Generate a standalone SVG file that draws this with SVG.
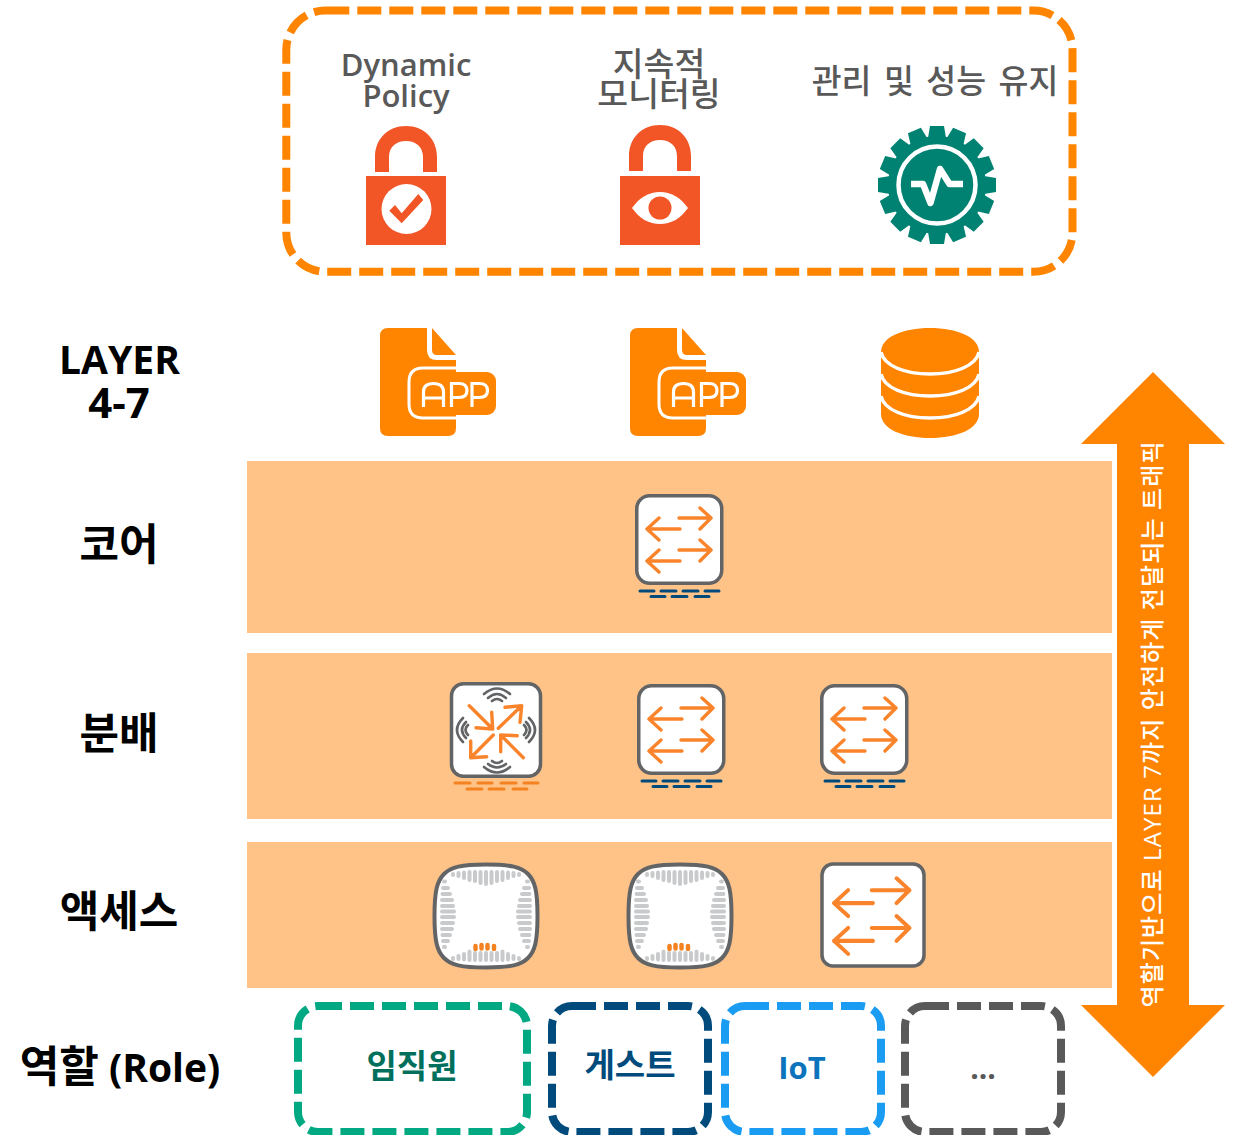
<svg xmlns="http://www.w3.org/2000/svg" width="1241" height="1135" viewBox="0 0 1241 1135">
<style>
text{font-family:"Open Sans","Noto Sans CJK KR",sans-serif;text-anchor:middle}
.lab{font-size:39px;font-weight:700;fill:#000}
.ko{font-size:43px;font-weight:700;fill:#000}
.top{font-size:31px;font-weight:600;fill:#595959}
.topk{font-size:33.500px;font-weight:500;fill:#595959}
.role{font-size:33px;font-weight:700}
.band{fill:#FFC388}
.or{fill:#FF8400}
.red{fill:#F25526}
.tl{fill:#008272}
.dash{fill:none;stroke-width:8;stroke-dasharray:24 8}
.box{fill:#fff;stroke:#636466;stroke-width:3.5}
.ar{fill:none;stroke:#F9842C;stroke-width:3.4;stroke-linecap:round;stroke-linejoin:round}
.wave{fill:none;stroke:#636466;stroke-width:2.600;stroke-linecap:round}
.grey{fill:none;stroke:#C8CACB;stroke-width:4;stroke-linecap:round}
.hot{fill:none;stroke:#F58220;stroke-width:4.500;stroke-linecap:round}
</style>
<defs>
<path id="arrows" class="ar" d="M43 23H75M64 13L75 23L64 34M44 34H11M23 23L11 34L23 45M43 55H75M64 45L75 55L64 66M44 66H11M23 55L11 66L23 77"/>
<symbol id="sw" viewBox="0 0 86 91" width="86" height="91" overflow="visible">
<rect class="box" x="0.750" y="0.750" width="85" height="87.500" rx="13"/>
<use href="#arrows"/>
</symbol>
<path id="lines-blue" fill="none" stroke="#004B7C" stroke-width="3" stroke-linecap="round" d="M2 0H16M23 0H38M45 0H60M67 0H81M13 5.500H27M34 5.500H49M57 5.500H71"/>
<symbol id="ap" viewBox="0 0 106 106" width="106" height="106" overflow="visible">
<path d="M53 1.500C78 1.500 88 4 95 11C102 18 104.500 28 104.500 53C104.500 78 102 88 95 95C88 102 78 104.500 53 104.500C28 104.500 18 102 11 95C4 88 1.500 78 1.500 53C1.500 28 4 18 11 11C18 4 28 1.500 53 1.500Z" fill="#fff" stroke="#636466" stroke-width="4"/>
<path class="grey" d="M20 11V12M25.500 10V13M31 9.500V15M36.500 9V17M42 9V18M47.500 9V20M53 9V21M58.500 9V20M64 9V18M69.500 9V17M75 9.500V15M80.500 10V13M86 11V12"/>
<path class="grey" d="M20 95V96M25.500 93V96M31 91V96.500M36.500 88.500V97M42 90V97M47.500 90V97M53 90V97M58.500 90V97M64 90V97M69.500 88.500V97M75 91V96.500M80.500 93V96M86 95V96"/>
<path class="grey" d="M11 18.500H12M10 25H15M9.500 31H17M9 37H19M9 43H20M9 48.500H21M9 54H21M9 60H20M9 66H19M9.500 72H17M10 78H15M11 84H12"/>
<path class="grey" d="M94 18.500H95M91 25H96M89 31H96.500M87 37H97M86 43H97M85 48.500H97M85 54H97M86 60H97M87 66H97M89 72H96.500M91 78H96M94 84H95"/>
<path class="hot" d="M42.500 83V86M48.500 82V85.500M54.500 82V85.500M61 83V86"/>
</symbol>
<symbol id="app" viewBox="0 0 116 108" width="116" height="108" overflow="visible">
<path class="or" d="M8 0H47V22Q47 32 57 32H76V100Q76 108 68 108H8Q0 108 0 100V8Q0 0 8 0Z"/>
<path class="or" d="M52 0L76 27H57Q52 27 52 22Z"/>
<path d="M76 40H43Q29 40 29 54V76Q29 90 43 90H76" fill="none" stroke="#fff" stroke-width="3"/>
<rect class="or" x="33" y="44" width="83" height="43" rx="9"/>
<path d="M43.500 79V64Q43.500 55.500 53.500 55.500Q63.500 55.500 63.500 64V79M43.500 70H63.500M71.500 79V55.500H79Q87 55.500 87 62.500Q87 69.500 79 69.500H71.500M92 79V55.500H99.500Q107.500 55.500 107.500 62.500Q107.500 69.500 99.500 69.500H92" fill="none" stroke="#fff" stroke-width="3.200"/>
</symbol>
<path id="tooth" d="M930 126h14l2 12h-18zM930 244h14l2-12h-18z"/>
</defs>

<g id="top-group">
<rect class="dash" x="286.300" y="10.500" width="786.200" height="261.200" rx="39" stroke="#FF8400"/>
</g>

<g id="policy">
<text class="top" x="406" y="76">Dynamic</text><text class="top" x="406" y="107">Policy</text>
<path class="red" d="M375 172V157C375 139 388 126 406 126C424 126 437 139 437 157V172H423V157C423 147 416 141 406 141C396 141 389 147 389 157V172Z"/>
<rect class="red" x="366" y="176" width="80" height="69"/>
<circle cx="406.500" cy="209" r="25" fill="#fff"/>
<path class="red" d="M389.300 210.700L395 205L401.700 213.300L418.300 194L423.300 200L401.700 223.300Z"/>
</g>

<g id="monitoring">
<text class="topk" x="659" y="76">지속적</text><text class="topk" x="659" y="106">모니터링</text>
<path class="red" d="M629 171V156C629 138 642 125 660 125C678 125 691 138 691 156V171H677V156C677 146 670 140 660 140C650 140 643 146 643 156V171Z"/>
<rect class="red" x="620" y="176" width="80" height="69"/>
<path d="M632 208C640 197 649 192 660 192C671 192 680 197 688 208C680 219 671 224 660 224C649 224 640 219 632 208Z" fill="#fff"/>
<circle cx="660" cy="208" r="11.500" fill="#F25526"/>
</g>

<g id="manage">
<text class="topk" style="font-size:32.500px" x="935" y="93" word-spacing="4">관리 및 성능 유지</text>
<circle class="tl" cx="937" cy="185" r="49"/>
<g class="tl" id="gear">
<use href="#tooth"/>
<use href="#tooth" transform="rotate(22.500 937 185)"/>
<use href="#tooth" transform="rotate(45 937 185)"/>
<use href="#tooth" transform="rotate(67.500 937 185)"/>
<use href="#tooth" transform="rotate(90 937 185)"/>
<use href="#tooth" transform="rotate(112.500 937 185)"/>
<use href="#tooth" transform="rotate(135 937 185)"/>
<use href="#tooth" transform="rotate(157.500 937 185)"/>
</g>
<circle cx="937" cy="185" r="38.500" fill="none" stroke="#fff" stroke-width="4.500"/>
<path d="M911 184H923L930.500 203L940 169L949.500 184H963" fill="none" stroke="#fff" stroke-width="6.500" stroke-linejoin="round"/>
</g>

<g id="app-1"><use href="#app" x="380" y="328"/></g>
<g id="app-2"><use href="#app" x="630" y="328"/></g>
<g id="database">
<path class="or" d="M881 352C881 337 903 328 930 328C957 328 979 337 979 352V414C979 429 957 438 930 438C903 438 881 429 881 414Z"/>
<path d="M881 352C884 366 905 374 930 374C955 374 976 366 979 352M881 374C884 388 905 396 930 396C955 396 976 388 979 374M881 396C884 410 905 418 930 418C955 418 976 410 979 396" fill="none" stroke="#fff" stroke-width="3.500"/>
</g>

<g id="bands">
<rect class="band" x="247" y="461" width="865" height="172"/>
<rect class="band" x="247" y="653" width="865" height="166"/>
<rect class="band" x="247" y="842" width="865" height="146"/>
</g>

<g id="arrow">
<path class="or" d="M1153 372L1225 444H1189V1005H1225L1153 1077L1081 1005H1117V444H1081Z"/>
<text transform="translate(1161 724.500) rotate(-90)" font-size="24" font-weight="500" fill="#fff" textLength="566" lengthAdjust="spacing">역할기반으로 LAYER 7까지 안전하게 전달되는 트래픽</text>
</g>

<g id="layer-labels">
<text class="lab" x="119.500" y="374">LAYER</text><text class="lab" style="font-size:42px" x="119" y="418">4-7</text>
<text class="ko" x="119" y="560">코어</text>
<text class="ko" x="119" y="749">분배</text>
<text class="ko" x="119" y="927">액세스</text>
<text class="lab" x="120" y="1082"><tspan font-size="43">역할</tspan> (Role)</text>
</g>

<g id="core-switch"><use href="#sw" x="636" y="495"/><use href="#lines-blue" x="638" y="591"/></g>
<g id="dist-controller">
<rect class="box" x="451.500" y="683.750" width="89" height="92.500" rx="12"/>
<path class="ar" d="M469.300 705.700L492.700 729M491.700 712.300L492.700 729L476 727.700M498.300 728.300L521.700 705.700M505 707.300L521.700 705.700L520 722.300M493.300 735L470.700 757.700M470.700 741V757.700L486.700 756.700M523.300 757.700L500.700 735M500.700 751.700V735L517.300 735.700"/>
<path class="wave" d="M484 694Q497 683 510 694M488 698Q497 690 506 698M492 701Q497 697 502 701M484 767Q497 778 510 767M488 764Q497 771 506 764M492 761Q497 765 502 761M463 718Q451 730 463 742M466 722Q458 730 466 738M468 725Q463 730 468 735M529 718Q541 730 529 742M526 722Q534 730 526 738M524 725Q529 730 524 735"/>
<path d="M455 783H470M478 783H492M501 783H516M524 783H538M467 789H482M489 789H504M513 789H527" fill="none" stroke="#F58220" stroke-width="3" stroke-linecap="round"/>
</g>
<g id="dist-switch-1"><use href="#sw" x="638" y="685"/><use href="#lines-blue" x="640" y="781"/></g>
<g id="dist-switch-2"><use href="#sw" x="821" y="685"/><use href="#lines-blue" x="823" y="781"/></g>

<g id="ap-1"><use href="#ap" x="433" y="863"/></g>
<g id="ap-2"><use href="#ap" x="627" y="863"/></g>
<g id="access-switch">
<rect class="box" x="822" y="864" width="102" height="102" rx="11"/>
<use href="#arrows" transform="translate(821 863) scale(1.180)"/>
</g>

<g id="role-staff"><rect class="dash" x="298" y="1006" width="229" height="126" rx="20" stroke="#00A982"/><text class="role" x="412" y="1078" fill="#00705C">임직원</text></g>
<g id="role-guest"><rect class="dash" x="552" y="1006" width="156" height="126" rx="20" stroke="#004B7C"/><text class="role" x="630" y="1077" fill="#004B7C">게스트</text></g>
<g id="role-iot"><rect class="dash" x="725" y="1006" width="156" height="126" rx="20" stroke="#1A9CF2"/><text class="role" x="802" y="1079" fill="#0B74BC" style="font-size:31px">IoT</text></g>
<g id="role-other"><rect class="dash" x="905" y="1006" width="156" height="126" rx="20" stroke="#595959"/><text class="role" x="983" y="1079" fill="#595959" style="font-size:30px">...</text></g>
</svg>
